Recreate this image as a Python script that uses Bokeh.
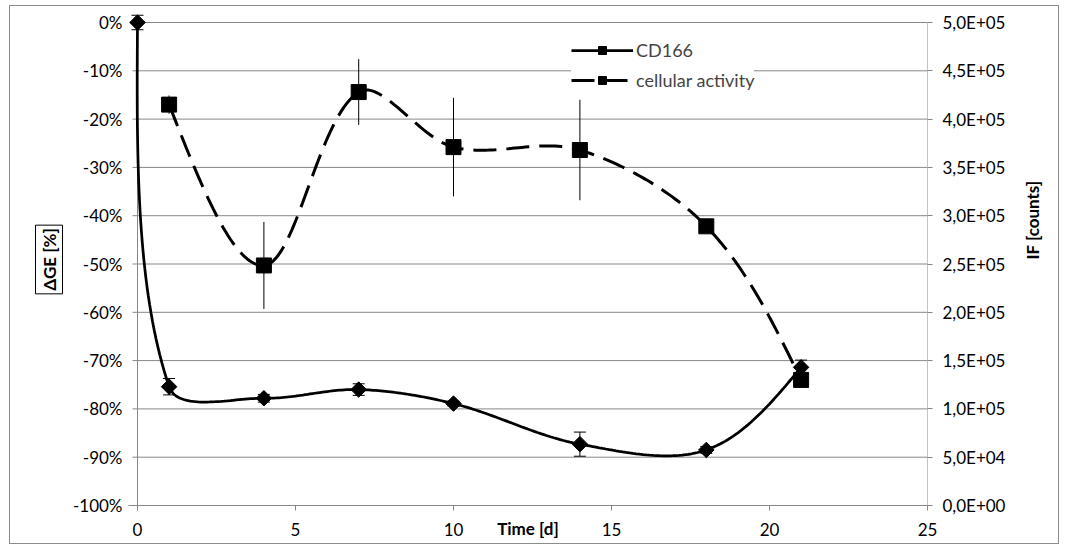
import numpy as np
from bokeh.plotting import figure
from bokeh.models import (Range1d, LinearAxis, FixedTicker, Whisker, TeeHead,
                          ColumnDataSource, Legend, LegendItem, Title)
from bokeh.embed import file_html
from bokeh.resources import INLINE

# ---------------- data ----------------
days = [0, 1, 4, 7, 10, 14, 18, 21]
cd166 = [0.0, -75.4, -77.8, -76.0, -78.9, -87.3, -88.5, -71.4]
cd166_err = [1.5, 1.7, 0.8, 1.2, 0.5, 2.5, 0.7, 1.5]

activity_days = [1, 4, 7, 10, 14, 18, 21]
activity = [415000, 248500, 428000, 371000, 368000, 289000, 130000]
activity_err = [9500, 45000, 34000, 51000, 52000, 4000, 3000]

x_ticks = [0, 5, 10, 15, 20, 25]
x_labels = ["0", "5", "10", "15", "20", "25"]
left_ticks = [0, -10, -20, -30, -40, -50, -60, -70, -80, -90, -100]
left_labels = ["0%", "-10%", "-20%", "-30%", "-40%", "-50%", "-60%", "-70%",
               "-80%", "-90%", "-100%"]
right_ticks = [0, 50000, 100000, 150000, 200000, 250000, 300000, 350000,
               400000, 450000, 500000]
right_labels = ["0,0E+00", "5,0E+04", "1,0E+05", "1,5E+05", "2,0E+05", "2,5E+05",
                "3,0E+05", "3,5E+05", "4,0E+05", "4,5E+05", "5,0E+05"]

# ---------------- layout ----------------
W, H = 1050, 539
EXT_L, EXT_T = 9, 9          # frame slack left of x=0 and above 0 % (keeps first marker unclipped)
BL, BT = 118, 7
FW, FH = 799, 492
BR = W - BL - FW
BB = H - BT - FH
X0, X1 = 0, 25
YL0, YL1 = -100, 0
YR1 = 500000
FONT = "Lato"
GRAY = "#878787"
TICK_FS = "17px"

SX = (FW - EXT_L) / (X1 - X0)          # px per day
SY = (FH - EXT_T) / (YL1 - YL0)        # px per percent
x_lo = X0 - EXT_L / SX
y_hi = YL1 + EXT_T / SY
SYR = SY * (YL1 - YL0) / YR1           # px per count


def setp(obj, **kw):
    props = obj.properties()
    for k, v in kw.items():
        if k in props:
            setattr(obj, k, v)


def smooth_path(xs, ys, kx, ky, n=40):
    """Excel-like smoothed line (cubic Bezier, chord-length scaled tangents)."""
    P = np.column_stack([np.asarray(xs, float) * kx, np.asarray(ys, float) * ky])
    m = len(P)
    d = np.hypot(*np.diff(P, axis=0).T)
    T = np.zeros_like(P)
    for i in range(1, m - 1):
        T[i] = (P[i + 1] - P[i - 1]) / (d[i - 1] + d[i])
    pts = []
    t = np.linspace(0, 1, n)[:, None]
    for i in range(m - 1):
        a, b = P[i], P[i + 1]
        c1 = a + T[i] * d[i] / 3 if i > 0 else None
        c2 = b - T[i + 1] * d[i] / 3 if i + 1 < m - 1 else None
        if c1 is None and c2 is None:
            c1, c2 = a + (b - a) / 3, b - (b - a) / 3
        elif c1 is None:
            c1 = a + (c2 - a) / 2
        elif c2 is None:
            c2 = b + (c1 - b) / 2
        seg = ((1 - t) ** 3) * a + 3 * ((1 - t) ** 2) * t * c1 + 3 * (1 - t) * (t ** 2) * c2 + (t ** 3) * b
        pts.append(seg if i == 0 else seg[1:])
    pts = np.vstack(pts)
    return pts[:, 0] / kx, pts[:, 1] / ky


p = figure(width=W, height=H, output_backend="svg", toolbar_location=None,
           x_range=Range1d(x_lo, X1), y_range=Range1d(YL0, y_hi),
           min_border_left=BL, min_border_right=BR,
           min_border_top=BT, min_border_bottom=BB)
p.styles = {"border": "1px solid #8c8c8c", "margin-left": "9px", "margin-top": "5px"}
p.outline_line_color = None
p.background_fill_color = "white"
p.border_fill_color = "white"
p.extra_y_ranges = {"right": Range1d(0, YR1 * (y_hi - YL0) / (YL1 - YL0))}
p.xgrid.grid_line_color = None
p.ygrid.grid_line_color = None

# gridlines (with 5 px outward tick on the left) and the two vertical axis lines
p.segment(x0=[X0 - 5 / SX] * len(left_ticks), x1=[X1] * len(left_ticks),
          y0=left_ticks, y1=left_ticks, line_color=GRAY, line_width=1, level="underlay")
p.segment(x0=[X0, X1], x1=[X0, X1], y0=[YL0, YL0], y1=[YL1, YL1],
          line_color=GRAY, line_width=1, level="underlay")

# x axis
xa = p.xaxis[0]
xa.ticker = FixedTicker(ticks=x_ticks)
xa.major_label_overrides = dict(zip(x_ticks, x_labels))
xa.axis_line_color = GRAY
xa.major_tick_line_color = GRAY
xa.major_tick_in = 0
xa.major_tick_out = 5
xa.minor_tick_line_color = None
xa.major_label_standoff = 12
xa.major_label_text_font = FONT
xa.major_label_text_font_size = TICK_FS
xa.major_label_text_color = "black"
xa.axis_label = "Time [d]"
xa.axis_label_standoff = -21
xa.axis_label_text_font = FONT
xa.axis_label_text_font_size = TICK_FS
xa.axis_label_text_font_style = "bold"
xa.axis_label_text_color = "black"

# left axis (labels only; line and ticks drawn above)
ya = p.yaxis[0]
ya.ticker = FixedTicker(ticks=left_ticks)
ya.major_label_overrides = dict(zip(left_ticks, left_labels))
ya.axis_line_color = None
ya.major_tick_line_color = None
ya.major_tick_in = 0
ya.major_tick_out = 0
ya.minor_tick_line_color = None
ya.major_label_standoff = 6
ya.major_label_text_font = FONT
ya.major_label_text_font_size = TICK_FS
ya.major_label_text_color = "black"

# right axis
ry = LinearAxis(y_range_name="right")
ry.ticker = FixedTicker(ticks=right_ticks)
ry.major_label_overrides = dict(zip(right_ticks, right_labels))
ry.axis_line_color = None
ry.major_tick_line_color = GRAY
ry.major_tick_in = 0
ry.major_tick_out = 5
ry.minor_tick_line_color = None
ry.major_label_text_font = FONT
ry.major_label_text_font_size = TICK_FS
ry.major_label_text_color = "black"
ry.major_label_standoff = 10
p.add_layout(ry, "right")

# axis titles
left_title = Title(text="ΔGE [%]", align="center", text_font=FONT,
                   text_font_size=TICK_FS, text_font_style="bold", text_color="black",
                   border_line_color="black", border_line_width=1,
                   background_fill_color="white", standoff=14)
setp(left_title, padding=3)
p.add_layout(left_title, "left")

if "axis_label_orientation" in LinearAxis.properties():
    ry.axis_label = "IF [counts]"
    ry.axis_label_orientation = np.pi / 2
    ry.axis_label_standoff = 24
    ry.axis_label_text_font = FONT
    ry.axis_label_text_font_size = TICK_FS
    ry.axis_label_text_font_style = "bold"
    ry.axis_label_text_color = "black"
else:
    right_title = Title(text="IF [counts]", align="center", text_font=FONT,
                        text_font_size=TICK_FS, text_font_style="bold", text_color="black",
                        border_line_color="black", border_line_width=1,
                        background_fill_color="white", standoff=22)
    p.add_layout(right_title, "right")

# ---------------- series ----------------
cx, cy = smooth_path(days, cd166, SX, SY)
cd_line = p.line(cx, cy, line_color="black", line_width=2.75)
act_x, act_y = smooth_path(activity_days, activity, SX, SYR)
act_line = p.line(act_x, act_y, line_color="black", line_width=3,
                  line_dash="23 10", y_range_name="right")

cd_src = ColumnDataSource(dict(
    x=days, y=cd166,
    lo=[v - e for v, e in zip(cd166, cd166_err)],
    hi=[v + e for v, e in zip(cd166, cd166_err)]))
act_src = ColumnDataSource(dict(
    x=activity_days, y=activity,
    lo=[v - e for v, e in zip(activity, activity_err)],
    hi=[v + e for v, e in zip(activity, activity_err)]))

cd_pts = p.scatter("x", "y", source=cd_src, marker="square", angle=np.pi / 4,
                   size=11, fill_color="black", line_color="black")
act_pts = p.scatter("x", "y", source=act_src, marker="square", size=15,
                    fill_color="black", line_color="black", y_range_name="right")

p.add_layout(Whisker(base="x", lower="lo", upper="hi", source=cd_src,
                     dimension="height", line_color="black", line_width=1,
                     lower_head=TeeHead(size=12, line_color="black", line_width=1),
                     upper_head=TeeHead(size=12, line_color="black", line_width=1)))
p.add_layout(Whisker(base="x", lower="lo", upper="hi", source=act_src,
                     dimension="height", line_color="black", line_width=1,
                     y_range_name="right", lower_head=None, upper_head=None))

# ---------------- legend ----------------
legend = Legend(items=[LegendItem(label="CD166", renderers=[cd_line, cd_pts]),
                       LegendItem(label="cellular activity", renderers=[act_line, act_pts])],
                location=(443, 414), orientation="vertical",
                glyph_width=62, glyph_height=20, label_height=20, spacing=8,
                padding=8, margin=0, label_standoff=3,
                label_text_font=FONT, label_text_font_size="18px",
                border_line_color=None, background_fill_color="white",
                background_fill_alpha=1.0)
p.add_layout(legend, "center")

open("out.html", "w").write(file_html(p, INLINE))
